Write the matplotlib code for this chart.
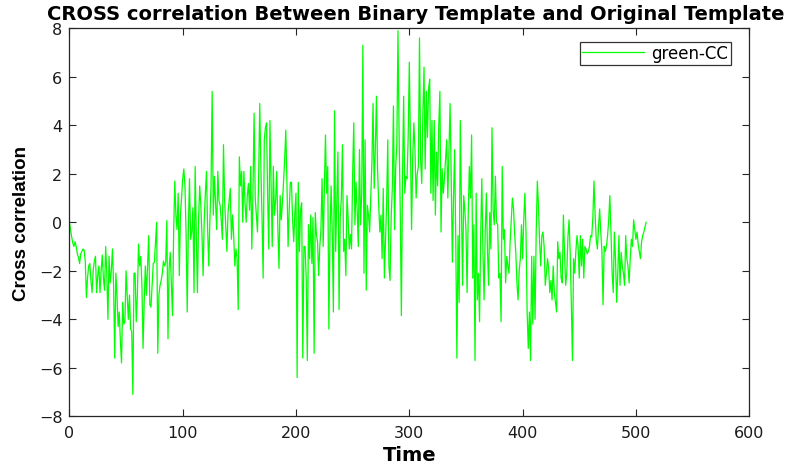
import numpy as np
import matplotlib
matplotlib.use("Agg")
import matplotlib.pyplot as plt

# ---- data (one value per time step) ----
cc_000_099 = [
    0.0, -0.3, -0.6, -0.85, -1.0, -0.8, -1.0, -1.3, -1.45, -1.7,
    -1.3, -1.2, -1.1, -1.15, -1.6, -3.1, -2.3, -1.8, -1.7, -2.4,
    -2.9, -2.0, -1.6, -1.4, -2.9, -2.2, -1.8, -2.9, -2.0, -1.35,
    -2.3, -2.8, -1.0, -2.1, -4.0, -1.4, -2.5, -2.0, -1.1, -2.6,
    -5.6, -2.1, -3.0, -4.3, -3.7, -4.9, -5.8, -3.3, -4.2, -4.1,
    -2.0, -3.0, -4.0, -3.0, -4.4, -4.5, -7.1, -2.1, -2.1, -4.1,
    -3.0, -0.9, -1.8, -1.4, -2.6, -5.2, -3.3, -1.8, -3.0, -1.8,
    -0.55, -3.4, -3.5, -2.6, -1.7, -1.65, -0.8, 0.0, -5.4, -3.0,
    -2.6, -2.4, -2.1, -1.6, -1.8, -1.65, 0.07, -4.8, -1.9, -1.24,
    -2.5, -3.85, -0.4, 1.7, 0.3, -0.3, 1.2, -2.2, 0.3, 1.0,
]
cc_100_199 = [
    1.8, 2.2, 1.5, -0.5, -3.7, -0.2, 1.8, -0.7, -0.4, 0.6,
    -2.9, 2.3, -0.5, -2.9, 0.1, 1.5, 0.7, -0.5, -2.2, 0.1,
    1.2, 2.1, -0.3, -1.8, 0.1, 1.5, 5.4, 0.3, 1.9, 0.8,
    -0.3, 2.1, 0.9, 0.7, 0.1, -0.7, 3.2, 0.9, -0.2, -1.2,
    0.4, 0.9, 1.4, -0.7, 0.3, -0.55, -1.8, -1.1, -1.5, -3.6,
    2.7, 1.5, 2.1, 0.0, 2.1, 0.8, 0.0, 1.1, 1.6, 0.5,
    2.3, -1.1, 1.2, 4.5, 1.0, 0.3, -0.4, 1.8, 4.9, 2.3,
    0.2, -2.3, 3.4, 3.9, 4.1, 1.0, -1.1, 4.2, 1.5, -1.0,
    2.3, 0.3, 0.9, 2.1, -0.3, -1.9, 1.1, 0.1, 0.8, 1.65,
    2.6, 3.8, 1.65, -1.0, 0.5, 1.65, 1.65, 0.1, -0.8, 0.4,
]
cc_200_299 = [
    1.2, -6.4, 1.65, -1.2, 0.5, 0.8, -5.6, -1.0, -1.0, -2.3,
    -5.7, -0.1, -1.5, 0.3, -1.7, 0.2, -5.4, 0.4, -0.5, -0.8,
    -2.2, -1.0, -0.3, 1.8, -1.0, 1.2, 3.6, 1.2, 2.3, -4.4,
    -0.5, 1.5, -0.4, -3.7, 4.6, -1.2, 0.8, 2.9, -3.6, 0.2,
    0.95, 3.2, -1.2, -0.7, -2.2, 1.1, 0.2, -1.1, -0.5, -1.1,
    2.0, 4.1, -0.1, 1.65, 0.5, -1.0, 3.0, -0.1, 1.2, 7.3,
    -2.1, 3.4, -2.8, 0.7, 0.3, -0.4, 1.0, 2.5, 4.9, 1.4,
    3.0, 5.2, 2.2, 0.7, -0.4, 0.3, -1.5, 1.4, -2.3, -0.7,
    0.8, 3.4, -1.8, -2.4, 0.2, 1.4, 4.8, -0.3, 2.3, 3.2,
    7.9, 3.6, 0.5, -3.85, 1.8, 5.2, 1.2, 1.9, 1.8, 3.5,
]
cc_300_399 = [
    6.6, 3.2, -0.3, 2.6, 4.1, 3.0, 1.0, 2.0, 2.3, 7.6,
    2.6, 1.6, 4.5, 6.4, 2.2, 5.4, 3.5, 5.5, 5.9, 1.2,
    4.2, 0.9, 4.2, 0.3, 2.9, 1.5, 4.0, 5.4, -0.4, 2.2,
    1.2, 1.8, 2.6, 3.4, 1.0, 2.9, 4.9, 1.8, -1.65, 1.0,
    3.0, -0.7, -5.6, -0.55, -3.3, 4.2, 0.7, -2.6, 1.1, 0.5,
    -0.3, -2.9, 0.3, 2.3, 1.0, 3.6, -2.3, -0.1, -5.7, 1.2,
    -3.2, -2.1, -4.1, -0.55, 1.8, -1.2, -3.2, -0.4, 1.2, -1.2,
    -2.6, 0.4, -1.1, 3.9, 0.5, -0.1, 1.9, 0.0, -0.1, -2.3,
    -2.1, -4.1, 2.3, -0.7, -0.3, -2.5, -1.4, -1.8, -2.1, -0.8,
    0.1, 1.0, 0.55, -0.5, -1.24, -2.5, -3.2, -2.0, -1.5, -0.1,
]
cc_400_509 = [
    -1.5, 0.1, 1.2, -0.4, -3.7, -5.2, -3.7, -5.7, -1.4, -4.2,
    -1.4, -4.0, -0.4, 1.7, 0.7, -0.8, -1.8, -0.55, -0.4, -1.0,
    -2.6, -2.1, -1.5, -1.9, -2.9, -2.4, -3.2, -1.8, -2.9, -3.3,
    -3.7, -0.8, -1.5, -1.24, -2.3, -2.5, 0.3, -1.24, -2.6, -2.1,
    -0.6, 0.1, -1.24, -3.3, -5.7, -1.5, -2.1, -1.2, -0.55, -1.0,
    -2.3, -0.55, -1.8, -0.7, -2.3, -1.0, -1.1, -1.3, -1.2, -1.0,
    -0.55, -0.6, 0.2, 1.7, 0.3, -0.7, -1.1, -0.2, 0.55, -0.4,
    -1.2, -3.4, -1.0, -1.2, -1.0, -0.55, 0.1, 1.1, -0.4, -2.1,
    -2.9, -0.4, -1.5, -3.3, -2.1, -0.55, -2.6, -1.24, -1.8, -2.1,
    -2.6, -0.55, -1.5, -1.8, -2.5, -1.5, -0.7, -1.0, 0.1, -0.3,
    -0.7, -0.4, -0.9, -1.2, -1.5, -0.8, -0.55, -0.4, -0.2, 0.0,
]
cross_corr = cc_000_099 + cc_100_199 + cc_200_299 + cc_300_399 + cc_400_509
time = list(range(len(cross_corr)))

x_ticks = [0, 100, 200, 300, 400, 500, 600]
y_ticks = [-8, -6, -4, -2, 0, 2, 4, 6, 8]
title_text = "CROSS correlation Between Binary Template and Original Template"
x_label = "Time"
y_label = "Cross correlation"
legend_label = "green-CC"

# ---- figure ----
plt.rcParams['font.family'] = ['DejaVu Sans']
W, H = 786, 464
fig = plt.figure(figsize=(W / 100, H / 100), dpi=100)
ax = fig.add_axes([69.4 / W, 1 - 417.3 / H, 679.8 / W, 388.0 / H])

ax.plot(time, cross_corr, color=(0, 1, 0), linewidth=0.9, label=legend_label)

ax.set_xlim(0, 600)
ax.set_ylim(-8, 8)
ax.set_xticks(x_ticks)
ax.set_yticks(y_ticks)
axis_gray = '#262626'
for sp in ax.spines.values():
    sp.set_color(axis_gray)
    sp.set_linewidth(0.9)
ax.tick_params(direction='in', length=5, width=0.8, colors=axis_gray,
               labelcolor='#1a1a1a', labelsize=11.5, top=True, right=True)
ax.tick_params(axis='x', pad=6)
ax.tick_params(axis='y', pad=5)

ax.set_title(title_text, fontsize=14, fontweight='bold', pad=6.5, x=0.509)
ax.set_xlabel(x_label, fontsize=14, fontweight='bold', labelpad=4)
ax.set_ylabel(y_label, fontsize=13.5, fontweight='bold', labelpad=6,
              family=['Liberation Sans', 'DejaVu Sans'])

leg = ax.legend(loc='upper right', bbox_to_anchor=(0.973, 0.9655),
                borderaxespad=0, fancybox=False, framealpha=1,
                edgecolor='#333333', fontsize=12, handlelength=3.7,
                borderpad=0.15, handletextpad=0.45)
leg.get_frame().set_linewidth(0.9)

fig.savefig("out.png", dpi=100)
